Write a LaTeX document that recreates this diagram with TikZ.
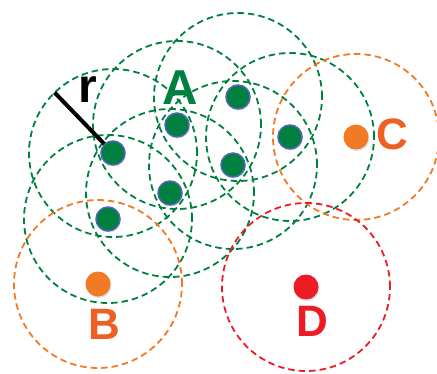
\documentclass[tikz,border=0pt]{standalone}
\usepackage{fontspec}
\setmainfont{Liberation Sans}
\usetikzlibrary{shadows}
\definecolor{cgreen}{RGB}{0,128,62}
\definecolor{cblue}{RGB}{80,100,185}
\definecolor{corange}{RGB}{242,122,36}
\definecolor{corangetxt}{RGB}{236,96,36}
\definecolor{cred}{RGB}{237,28,36}
\tikzset{
  dashcirc/.style={dash pattern=on 6.5pt off 4pt, line width=1.8pt},
  gcirc/.style={dashcirc, draw=cgreen},
  ocirc/.style={dashcirc, draw=corange},
  rcirc/.style={dashcirc, draw=cred},
  gdot/.style={circle, fill=cgreen, draw=cblue, line width=1.5pt, minimum size=24pt, inner sep=0pt,
    drop shadow={opacity=0.25, shadow xshift=1pt, shadow yshift=-1.5pt}},
  odot/.style={circle, fill=corange, minimum size=25pt, inner sep=0pt,
    drop shadow={opacity=0.25, shadow xshift=1pt, shadow yshift=-1.5pt}},
  rdot/.style={circle, fill=cred, minimum size=25pt, inner sep=0pt,
    drop shadow={opacity=0.25, shadow xshift=1pt, shadow yshift=-1.5pt}},
  lbl/.style={font=\fontsize{44}{44}\selectfont\bfseries, inner sep=0pt},
}
\begin{document}
\begin{tikzpicture}[x=1pt,y=-1pt]
\useasboundingbox (0,0) rectangle (437,373);
% point positions
\coordinate (pg1) at (113,153);
\coordinate (pg2) at (177,125);
\coordinate (pg3) at (238,97);
\coordinate (pg4) at (290,137);
\coordinate (pg5) at (233,165);
\coordinate (pg6) at (170,193);
\coordinate (pg7) at (108,219);
\coordinate (pc) at (356,137);
\coordinate (pb) at (98,284);
\coordinate (pd) at (306,287);
% circles
\foreach \p in {pg1,pg2,pg3,pg4,pg5,pg6,pg7}
  \draw[gcirc] (\p) circle[radius=84pt];
\draw[ocirc] (pc) circle[radius=83pt];
\draw[ocirc] (pb) circle[radius=84pt];
\draw[rcirc] (pd) circle[radius=84pt];
% radius line
\path (pg1) ++(134:84pt) coordinate (rend);
\draw[line width=4pt, black] (pg1) -- (rend);
% dots
\node[gdot] (g1) at (pg1) {};
\node[gdot] (g2) at (pg2) {};
\node[gdot] (g3) at (pg3) {};
\node[gdot] (g4) at (pg4) {};
\node[gdot] (g5) at (pg5) {};
\node[gdot] (g6) at (pg6) {};
\node[gdot] (g7) at (pg7) {};
\node[odot] (c) at (pc) {};
\node[odot] (b) at (pb) {};
\node[rdot] (d) at (pd) {};
% labels
\node[lbl, text=cgreen, font=\fontsize{49}{49}\selectfont\bfseries] (la) at (180,88) {A};
\node[lbl, text=black, font=\fontsize{48}{48}\selectfont\bfseries] (lr) at (88,90) {r};
\node[lbl, text=corangetxt] (lc) at (392,134) {C};
\node[lbl, text=corangetxt] (lb) at (104,324) {B};
\node[lbl, text=cred] (ld) at (312,321) {D};
\end{tikzpicture}
\end{document}
